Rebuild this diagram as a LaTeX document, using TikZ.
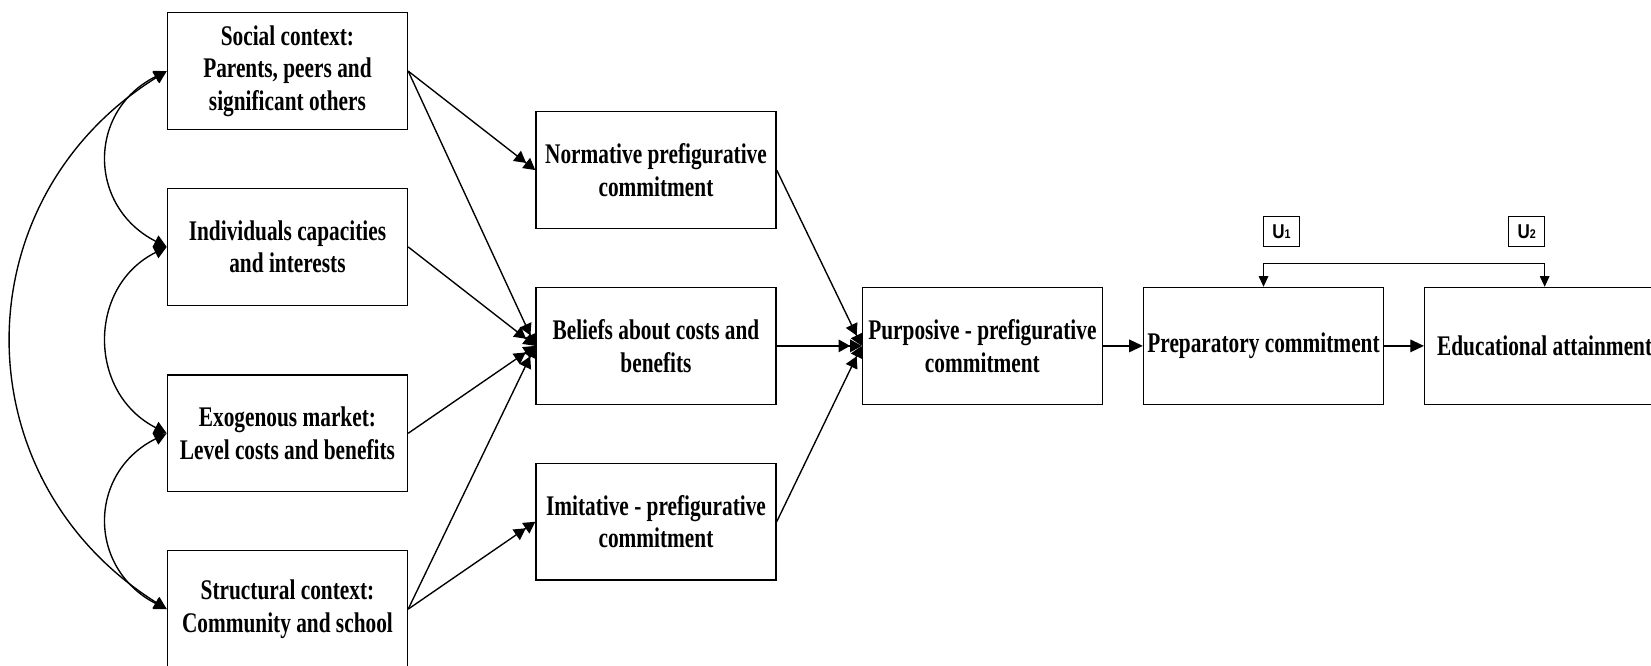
\documentclass[tikz,border=0pt]{standalone}
\usepackage{fontspec}
\newfontfamily\tnr[FakeStretch=0.75]{Liberation Serif}
\newfontfamily\arl[FakeStretch=0.85]{Liberation Sans}
\usetikzlibrary{arrows.meta}
\begin{document}
\begin{tikzpicture}[x=1pt,y=-1pt,
  box/.style={draw,line width=1.3pt,minimum width=228pt,minimum height=111pt,inner sep=0pt,align=center,
    font={\tnr\bfseries\fontsize{27}{31}\selectfont}},
  ubox/.style={draw,line width=1pt,minimum width=34pt,minimum height=29pt,inner sep=0pt,
    font={\arl\bfseries\fontsize{19}{19}\selectfont}},
  arr/.style={line width=1.3pt,-{Triangle[length=13pt,width=12pt]}},
  arrd/.style={line width=1.3pt,-{Triangle[length=11pt,width=12pt]Triangle[length=11pt,width=12pt]}},
  dbl/.style={line width=1.3pt,{Triangle[length=12pt,width=12pt]}-{Triangle[length=12pt,width=12pt]}},
  ubr/.style={line width=1pt,{Triangle[length=10pt,width=9pt]}-{Triangle[length=10pt,width=9pt]}}
]
\useasboundingbox (0,0) rectangle (1568,632);
% left column
\node[box] (soc) at (273,67.5) {Social context:\\Parents, peers and\\significant others};
\node[box] (ind) at (273,234.5) {Individuals capacities\\and interests};
\node[box] (exo) at (273,411.5) {Exogenous market:\\Level costs and benefits};
\node[box] (str) at (273,578.5) {Structural context:\\Community and school};
% middle column
\node[box] (nor) at (623,161.5) {Normative prefigurative\\commitment};
\node[box] (bel) at (623,328.5) {Beliefs about costs and\\benefits};
\node[box] (imi) at (623,495.5) {Imitative - prefigurative\\commitment};
% right
\node[box] (pur) at (933,328.5) {Purposive - prefigurative\\commitment};
\node[box] (pre) at (1200,328.5) {Preparatory commitment};
\node[box] (edu) at (1467,328.5) {Educational attainment};
% U boxes
\node[ubox] (u1) at (1217,220) {U{\fontsize{12}{12}\selectfont 1}};
\node[ubox] (u2) at (1450,220) {U{\fontsize{12}{12}\selectfont 2}};
% connectors
\draw[arrd] (soc.east) -- (nor.west);
\draw[arrd] (soc.east) -- (bel.west);
\draw[arrd] (ind.east) -- (bel.west);
\draw[arrd] (exo.east) -- (bel.west);
\draw[arrd] (str.east) -- (bel.west);
\draw[arrd] (str.east) -- (imi.west);
\draw[arrd] (nor.east) -- (pur.west);
\draw[arrd] (bel.east) -- (pur.west);
\draw[arrd] (imi.east) -- (pur.west);
\draw[arr] (pur.east) -- (pre.west);
\draw[arr] (pre.east) -- (edu.west);
% U bracket
\coordinate (ub) at (1467,250);
\draw[ubr] (pre.north) |- (ub) -- (edu.north);
% correlations on the left
\draw[dbl] (soc.west) .. controls (83,105) and (83,196) .. (ind.west);
\draw[dbl] (ind.west) .. controls (83,272) and (83,373) .. (exo.west);
\draw[dbl] (exo.west) .. controls (83,449) and (83,540) .. (str.west);
\draw[dbl] (soc.west) .. controls (-38,190) and (-38,455) .. (str.west);
\end{tikzpicture}
\end{document}
